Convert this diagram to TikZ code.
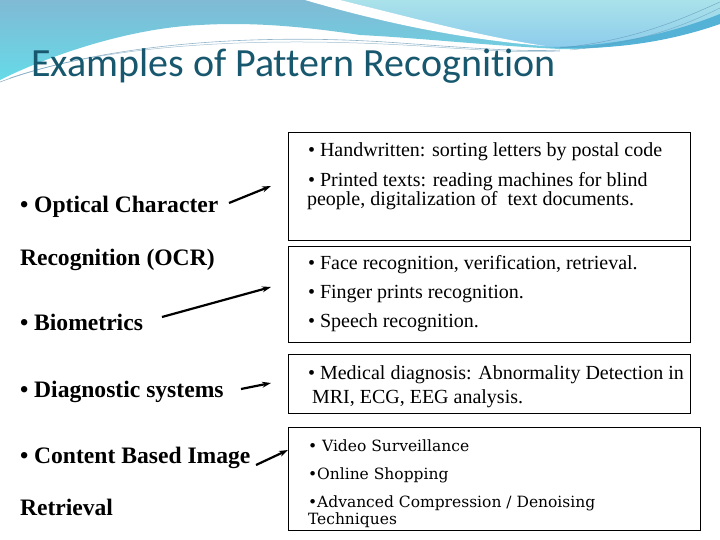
\documentclass[tikz,border=0pt]{standalone}
\usepackage{fontspec}
\setmainfont{Liberation Serif}
\newfontfamily\titlefont[Ligatures=NoCommon]{Carlito}
\newfontfamily\boxfont{DejaVu Serif}
\usetikzlibrary{arrows.meta}
\definecolor{titlecol}{RGB}{24,88,110}
\definecolor{hdrtop}{RGB}{128,186,212}
\definecolor{hdrbot}{RGB}{102,218,232}
\definecolor{lighttop}{RGB}{170,226,234}
\definecolor{lightbot}{RGB}{140,204,236}
\definecolor{streak}{RGB}{84,178,214}
\definecolor{thinline}{RGB}{100,150,180}
\begin{document}
\begin{tikzpicture}[x=1pt,y=-1pt,
  every node/.style={inner sep=0pt, outer sep=0pt},
  box/.style={draw=black, line width=0.9pt, anchor=north west},
  rtext/.style={anchor=base west, align=left, font=\fontsize{20}{18}\selectfont},
  ltext/.style={anchor=base west, font=\fontsize{23.6}{27}\selectfont\bfseries},
  ctext/.style={anchor=base west, align=left, font=\boxfont\fontsize{15.5}{17}\selectfont},
  arr/.style={-{Stealth[length=9pt,width=6pt]}, line width=2.2pt}]
\useasboundingbox (0,0) rectangle (720,540);
% header background
\shade[top color=hdrtop, bottom color=hdrbot] (0,0) -- (720,0) -- (720,20)
  .. controls (680,35) and (620,50) .. (560,49)
  .. controls (480,45) and (420,38) .. (360,35)
  .. controls (300,26) and (250,22) .. (200,25)
  .. controls (130,28) and (50,55) .. (0,80) -- cycle;
\shade[top color=lighttop, bottom color=lightbot] (340,0) -- (720,0) -- (720,18)
  .. controls (680,32) and (620,48) .. (560,48)
  .. controls (500,44) and (420,20) .. (340,0) -- cycle;
\fill[white] (340,0) .. controls (420,20) and (480,36) .. (545,46)
  .. controls (470,40) and (390,25) .. (305,0) -- cycle;
\fill[streak] (545,47) .. controls (620,47) and (680,30) .. (720,14)
  -- (720,24) .. controls (680,38) and (620,52) .. (545,47) -- cycle;
\draw[thinline, line width=0.6pt, opacity=0.7] (0,82) .. controls (100,45) and (250,32) .. (400,43)
  .. controls (470,48) and (520,52) .. (560,50);
\draw[thinline, line width=0.5pt, opacity=0.6] (10,78) .. controls (110,44) and (260,36) .. (420,46)
  .. controls (480,50) and (520,53) .. (560,51);
\draw[thinline, line width=0.5pt, opacity=0.7] (560,48) .. controls (640,40) and (690,15) .. (720,2);
\draw[thinline, line width=0.5pt, opacity=0.6] (570,50) .. controls (650,42) and (695,20) .. (720,8);
% title
\node[anchor=base west, font=\titlefont\fontsize{40}{44}\selectfont, text=titlecol] (title) at (31,77) {Examples of Pattern Recognition};
% boxes
\node[box, minimum width=402pt, minimum height=108pt] (b1) at (288,132) {};
\node[box, minimum width=402pt, minimum height=96pt] (b2) at (288,246) {};
\node[box, minimum width=402pt, minimum height=59pt] (b3) at (288,354) {};
\node[box, minimum width=412pt, minimum height=103pt] (b4) at (288,427) {};
% box texts (multi-line nodes are anchored at their last baseline)
\node[rtext] (t11) at (308,157) {• Handwritten: sorting letters by postal code};
\node[rtext] (t12) at (307,206) {\hspace{1pt}• Printed texts: reading machines for blind\\people, digitalization of\ \ text documents.};
\node[rtext] (t21) at (308,269) {• Face recognition, verification, retrieval.};
\node[rtext] (t22) at (308,298) {• Finger prints recognition.};
\node[rtext] (t23) at (308,327) {• Speech recognition.};
\node[rtext, font=\fontsize{20}{24}\selectfont] (t31) at (308,403) {• Medical diagnosis: Abnormality Detection in\\\hspace{4pt}MRI, ECG, EEG analysis.};
\node[ctext] (t41) at (308,451) {• Video Surveillance};
\node[ctext] (t42) at (308,479) {•Online Shopping};
\node[ctext] (t43) at (308,524) {•Advanced Compression / Denoising\\Techniques};
% left texts
\node[ltext] (l1) at (20,213) {• Optical Character};
\node[ltext] (l1b) at (20,265) {Recognition (OCR)};
\node[ltext] (l2) at (20,330) {• Biometrics};
\node[ltext] (l3) at (20,397) {• Diagnostic systems};
\node[ltext] (l4) at (20,463) {• Content Based Image};
\node[ltext] (l4b) at (20,515) {Retrieval};
% arrows
\coordinate (a1s) at (229,203);
\coordinate (a1e) at (271,186);
\coordinate (a2s) at (162,317);
\coordinate (a2e) at (271,287);
\coordinate (a3s) at (241,389);
\coordinate (a3e) at (271,383);
\coordinate (a4s) at (256,465);
\coordinate (a4e) at (288,450);
\draw[arr] (a1s) -- (a1e);
\draw[arr] (a2s) -- (a2e);
\draw[arr] (a3s) -- (a3e);
\draw[arr] (a4s) -- (a4e);
\end{tikzpicture}
\end{document}
